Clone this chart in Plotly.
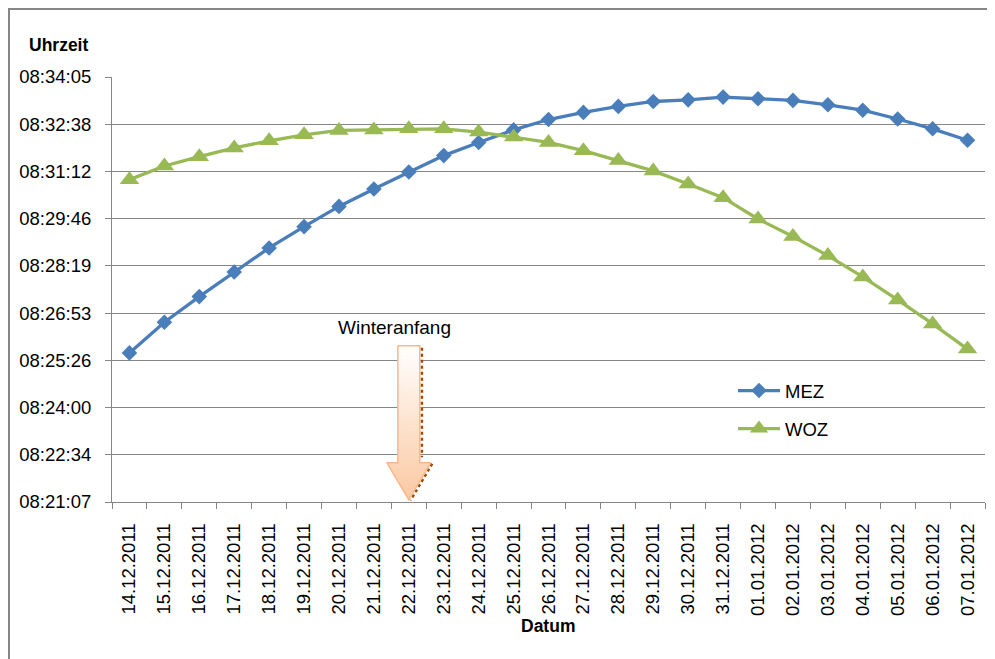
import plotly.graph_objects as go

# ---------------- data ----------------
dates = ["14.12.2011", "15.12.2011", "16.12.2011", "17.12.2011", "18.12.2011",
         "19.12.2011", "20.12.2011", "21.12.2011", "22.12.2011", "23.12.2011",
         "24.12.2011", "25.12.2011", "26.12.2011", "27.12.2011", "28.12.2011",
         "29.12.2011", "30.12.2011", "31.12.2011", "01.01.2012", "02.01.2012",
         "03.01.2012", "04.01.2012", "05.01.2012", "06.01.2012", "07.01.2012"]

mez = ["08:25:40", "08:26:36", "08:27:23", "08:28:08", "08:28:52",
       "08:29:31", "08:30:08", "08:30:40", "08:31:11", "08:31:41",
       "08:32:05", "08:32:28", "08:32:47", "08:33:00", "08:33:11",
       "08:33:20", "08:33:23", "08:33:28", "08:33:25", "08:33:22",
       "08:33:14", "08:33:04", "08:32:48", "08:32:30", "08:32:09"]

woz = ["08:30:57", "08:31:22", "08:31:39", "08:31:55", "08:32:08",
       "08:32:19", "08:32:27", "08:32:28", "08:32:30", "08:32:30",
       "08:32:24", "08:32:15", "08:32:05", "08:31:50", "08:31:32",
       "08:31:13", "08:30:49", "08:30:24", "08:29:45", "08:29:13",
       "08:28:38", "08:27:59", "08:27:17", "08:26:33", "08:25:47"]

y_tick_labels = ["08:21:07", "08:22:34", "08:24:00", "08:25:26", "08:26:53",
                 "08:28:19", "08:29:46", "08:31:12", "08:32:38", "08:34:05"]

winter_start = "22.12.2011"


def to_day(t):
    h, m, s = (int(v) for v in t.split(":"))
    return (h * 3600 + m * 60 + s) / 86400.0


x = list(range(len(dates)))
y_mez = [to_day(t) for t in mez]
y_woz = [to_day(t) for t in woz]
y_tick_vals = [0.348 + 0.001 * k for k in range(len(y_tick_labels))]
y_min, y_max = y_tick_vals[0], y_tick_vals[-1]

BLUE = "#4A7EBB"
GREEN = "#98B954"
GRID = "#868686"
FONT = "Liberation Sans"
TICK_SIZE = 18.5

fig = go.Figure()

fig.add_trace(go.Scatter(
    x=x, y=y_mez, name="MEZ", mode="lines+markers",
    line=dict(color=BLUE, width=3.3),
    marker=dict(symbol="diamond", size=12, color=BLUE),
    legendgroup="a",
))
fig.add_trace(go.Scatter(
    x=x, y=y_woz, name="WOZ", mode="lines+markers",
    line=dict(color=GREEN, width=3.3),
    marker=dict(symbol="triangle-up", size=17, color=GREEN),
    legendgroup="b",
))

# ---------------- "Winteranfang" block arrow ----------------
cx = dates.index(winter_start)
sec = 1 / 86400.0
shaft_hw, head_hw = 0.315, 0.63
tip_y = y_min + 4 * sec
head_y = y_min + 72 * sec
top_y = y_min + 286 * sec
ax_pts = [cx - shaft_hw, cx + shaft_hw, cx + shaft_hw, cx + head_hw, cx,
          cx - head_hw, cx - shaft_hw, cx - shaft_hw]
ay_pts = [top_y, top_y, head_y, head_y, tip_y, head_y, head_y, top_y]
# shadow (dotted, dark orange)
fig.add_trace(go.Scatter(
    x=[cx + shaft_hw + 0.06, cx + shaft_hw + 0.06, None, cx + head_hw + 0.04, cx + 0.05],
    y=[top_y - 4 * sec, head_y + 10 * sec, None, head_y - 2 * sec, tip_y - 1 * sec],
    mode="lines", line=dict(color="#984807", width=2.5, dash="dot"),
    showlegend=False, hoverinfo="skip",
))
fig.add_trace(go.Scatter(
    x=ax_pts, y=ay_pts, mode="lines", fill="toself",
    fillgradient=dict(type="vertical",
                      colorscale=[[0, "#FBC9A3"], [0.5, "#FDE3CF"], [1, "#FFFFFF"]]),
    line=dict(color="#F9B789", width=1.5),
    showlegend=False, hoverinfo="skip",
))

fig.add_annotation(
    x=cx - 0.4, y=top_y + 34 * sec, xref="x", yref="y",
    text="Winteranfang", showarrow=False, xanchor="center", yanchor="middle",
    font=dict(family=FONT, size=19, color="#000000"),
)

# ---------------- axis titles ----------------
# page offset (body margin of 8 px) taken into account: plot area spans
# page pixels x 112..985, y 77..502
PW, PH, L, T = 873.0, 425.0, 112.0, 77.0


def px(xp):
    return (xp - L) / PW


def py(yp):
    return (T + PH - yp) / PH


fig.add_annotation(x=px(58), y=py(45), xref="paper", yref="paper",
                   xanchor="center", yanchor="middle",
                   text="<b>Uhrzeit</b>", showarrow=False,
                   font=dict(family=FONT, size=17.5, color="#000000"))
fig.add_annotation(x=px(548), y=py(626), xref="paper", yref="paper",
                   xanchor="center", yanchor="middle",
                   text="<b>Datum</b>", showarrow=False,
                   font=dict(family=FONT, size=17.5, color="#000000"))

# outer frame
fig.add_shape(type="path", xref="paper", yref="paper",
              path=f"M{px(9)},{py(700)} L{px(9)},{py(9)} L{px(1010)},{py(9)}",
              line=dict(color=GRID, width=2))

fig.update_layout(
    width=987, height=651,
    margin=dict(l=104, r=10, t=69, b=157),
    paper_bgcolor="white", plot_bgcolor="white",
    font=dict(family=FONT, size=17, color="#000000"),
    showlegend=True,
    legend=dict(x=px(733), y=py(372), xanchor="left", yanchor="top",
                bgcolor="rgba(0,0,0,0)", font=dict(family=FONT, size=18.5),
                tracegroupgap=11, itemwidth=42, traceorder="grouped"),
    xaxis=dict(range=[-0.5, len(dates) - 0.5], tickvals=x, ticktext=dates,
               tickangle=-90, ticks="", showgrid=False, zeroline=False,
               showline=True, linecolor=GRID, linewidth=1,
               ticklabelstandoff=13,
               minor=dict(tickvals=[i - 0.5 for i in range(len(dates) + 1)],
                          ticks="outside", ticklen=6, tickcolor=GRID,
                          showgrid=False),
               tickfont=dict(family=FONT, size=TICK_SIZE)),
    yaxis=dict(range=[y_min, y_max], tickvals=y_tick_vals, ticktext=y_tick_labels,
               ticks="outside", ticklen=6, tickcolor=GRID,
               showgrid=True, gridcolor=GRID, gridwidth=1, zeroline=False,
               showline=True, linecolor=GRID, linewidth=1,
               ticklabelstandoff=10,
               tickfont=dict(family=FONT, size=TICK_SIZE)),
)

fig.write_html("out.html")
